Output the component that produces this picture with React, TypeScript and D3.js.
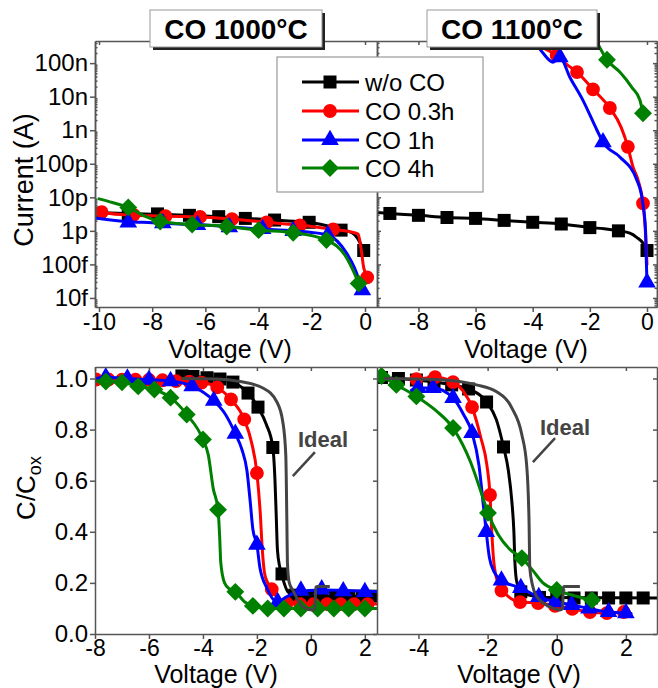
import { useEffect, useRef } from 'react';
import * as d3 from 'd3';

type Pt = [number, number];

const W = 658, H = 688;
const FONT = '"Liberation Sans", Arial, Helvetica, sans-serif';
const AXIS_COLOR = '#555';

// legend / series
const SERIES_NAMES = ['w/o CO', 'CO 0.3h', 'CO 1h', 'CO 4h'];
const SERIES_COLORS = ['#000000', '#ff0000', '#0000ff', '#008000'];
const SERIES_SYMBOLS = ['square', 'circle', 'triangle', 'diamond'];
const PANEL_TITLES = ['CO 1000°C', 'CO 1100°C'];
const IDEAL_LABEL = 'Ideal';
const IDEAL_COLOR = '#444';

// ticks
const I_TICKS = [1e-14, 1e-13, 1e-12, 1e-11, 1e-10, 1e-9, 1e-8, 1e-7];
const I_TICK_LABELS = ['10f', '100f', '1p', '10p', '100p', '1n', '10n', '100n'];
const V_TICKS_TL = [-10, -8, -6, -4, -2, 0];
const V_TICKS_TR = [-8, -6, -4, -2, 0];
const V_TICKS_BL = [-8, -6, -4, -2, 0, 2];
const V_TICKS_BR = [-4, -2, 0, 2];
const C_TICKS = [0, 0.2, 0.4, 0.6, 0.8, 1.0];

// ---- I-V, CO 1000°C (volts, amps)
const TL_BLACK_LINE: Pt[] = [[-10.15, 3.5e-12], [-9, 3.3e-12], [-8, 3.15e-12], [-7, 2.95e-12], [-6, 2.75e-12], [-5, 2.5e-12], [-4, 2.25e-12], [-3, 2.0e-12], [-2, 1.75e-12], [-1.4, 1.4e-12], [-1, 1.1e-12], [-0.68, 1.0e-12], [-0.38, 0.75e-12], [-0.19, 0.45e-12], [-0.05, 0.26e-12]];
const TL_BLACK_MARKS: Pt[] = [[-10, 3.4e-12], [-8.9, 3.3e-12], [-7.8, 3.2e-12], [-6.6, 2.9e-12], [-5.5, 2.65e-12], [-4.5, 2.35e-12], [-3.4, 2.1e-12], [-2.1, 1.8e-12], [-0.9, 1.05e-12], [-0.05, 0.26e-12]];
const TL_RED_LINE: Pt[] = [[-10.15, 4.2e-12], [-9.9, 3.6e-12], [-9, 3.0e-12], [-8, 2.8e-12], [-7, 2.7e-12], [-6, 2.55e-12], [-5, 2.25e-12], [-4, 1.9e-12], [-3, 1.6e-12], [-2, 1.35e-12], [-1.2, 1.1e-12], [-0.6, 0.95e-12], [-0.26, 0.8e-12], [-0.15, 0.3e-12], [-0.05, 0.08e-12], [0.08, 0.041e-12]];
const TL_RED_MARKS: Pt[] = [[-9.9, 3.6e-12], [-8.7, 3.0e-12], [-7.5, 2.75e-12], [-6.2, 2.6e-12], [-5.0, 2.25e-12], [-3.7, 1.8e-12], [-2.45, 1.45e-12], [-1.2, 1.1e-12], [0.08, 0.041e-12]];
const TL_BLUE_LINE: Pt[] = [[-10.15, 2.4e-12], [-9, 1.9e-12], [-8, 1.75e-12], [-7, 1.6e-12], [-6, 1.5e-12], [-5, 1.3e-12], [-4, 1.15e-12], [-3, 1.05e-12], [-2, 0.9e-12], [-1.4, 0.75e-12], [-0.7, 0.22e-12], [-0.4, 0.08e-12], [-0.1, 0.017e-12]];
const TL_BLUE_MARKS: Pt[] = [[-8.9, 1.8e-12], [-7.6, 1.7e-12], [-6.3, 1.5e-12], [-5.1, 1.3e-12], [-3.85, 1.15e-12], [-2.7, 1.0e-12], [-1.4, 0.75e-12], [-0.1, 0.017e-12]];
const TL_GREEN_LINE: Pt[] = [[-10, 9e-12], [-9.5, 7e-12], [-8.9, 5e-12], [-8.3, 2.8e-12], [-7.7, 1.9e-12], [-6.5, 1.55e-12], [-5.2, 1.35e-12], [-4, 1.05e-12], [-2.7, 0.88e-12], [-1.45, 0.53e-12], [-0.7, 0.16e-12], [-0.45, 0.066e-12], [-0.24, 0.027e-12]];
const TL_GREEN_MARKS: Pt[] = [[-8.9, 5e-12], [-7.7, 1.9e-12], [-6.5, 1.55e-12], [-5.2, 1.35e-12], [-4, 1.05e-12], [-2.7, 0.88e-12], [-1.45, 0.53e-12], [-0.24, 0.027e-12]];

// ---- I-V, CO 1100°C
const TR_BLACK_LINE: Pt[] = [[-9.45, 3.5e-12], [-9, 3.3e-12], [-8, 2.9e-12], [-7, 2.5e-12], [-6, 2.35e-12], [-5, 2.05e-12], [-4, 1.8e-12], [-3, 1.6e-12], [-2, 1.25e-12], [-1.5, 1.15e-12], [-1, 1.0e-12], [-0.6, 0.85e-12], [-0.35, 0.63e-12], [-0.14, 0.43e-12], [0, 0.26e-12]];
const TR_BLACK_MARKS: Pt[] = [[-9, 3.3e-12], [-8, 2.9e-12], [-7, 2.5e-12], [-6, 2.35e-12], [-5, 2.05e-12], [-4, 1.8e-12], [-3, 1.6e-12], [-2, 1.25e-12], [-1, 1.0e-12], [0, 0.26e-12]];
const TR_RED_LINE: Pt[] = [[-3.55, 2.6e-7], [-3.16, 1.7e-7], [-2.8, 9e-8], [-2.45, 5.4e-8], [-1.89, 1.66e-8], [-1.3, 4.6e-9], [-0.9, 1.2e-9], [-0.67, 3.2e-10], [-0.49, 8e-11], [-0.3, 3e-11], [-0.14, 6.6e-12], [-0.07, 1.5e-12], [0, 1e-13]];
const TR_RED_MARKS: Pt[] = [[-3.16, 1.7e-7], [-2.45, 5.4e-8], [-1.89, 1.66e-8], [-1.3, 4.6e-9], [-0.67, 3.2e-10], [-0.14, 6.6e-12]];
const TR_BLUE_LINE: Pt[] = [[-3.8, 3e-7], [-3.64, 2e-7], [-3.29, 1.07e-7], [-3.05, 1.5e-7], [-2.7, 3.8e-8], [-2.25, 8e-9], [-1.75, 1e-9], [-1.54, 4.4e-10], [-0.95, 1.6e-10], [-0.35, 3.2e-11], [-0.15, 7e-12], [-0.05, 1e-12], [-0.02, 1e-13], [0, 3e-14]];
const TR_BLUE_MARKS: Pt[] = [[-3.05, 1.5e-7], [-1.54, 4.4e-10], [0, 2.9e-14]];
const TR_GREEN_LINE: Pt[] = [[-1.75, 4.2e-7], [-1.4, 1.26e-7], [-0.95, 5.4e-8], [-0.53, 1.9e-8], [-0.25, 8e-9], [-0.14, 3.2e-9]];
const TR_GREEN_MARKS: Pt[] = [[-1.4, 1.26e-7], [-0.14, 3.2e-9]];

// ---- C-V, CO 1000°C (volts, C/Cox)
const BL_BLACK_LINE: Pt[] = [[-4.8, 1.01], [-4.37, 1.008], [-3.85, 1.003], [-3.37, 0.998], [-2.89, 0.986], [-2.33, 0.943], [-1.96, 0.888], [-1.65, 0.82], [-1.41, 0.73], [-1.33, 0.6], [-1.28, 0.45], [-1.24, 0.33], [-1.15, 0.26], [-1.05, 0.22], [-0.85, 0.165], [-0.6, 0.152], [0, 0.148], [2.45, 0.148]];
const BL_BLACK_MARKS: Pt[] = [[-4.78, 1.01], [-4.37, 1.008], [-3.85, 1.003], [-3.37, 0.998], [-2.89, 0.986], [-2.33, 0.943], [-1.96, 0.888], [-1.41, 0.73], [-1.07, 0.235], [-0.6, 0.152], [-0.1, 0.148], [0.4, 0.148], [0.9, 0.148], [1.4, 0.148], [1.9, 0.148], [2.4, 0.148]];
const BL_RED_LINE: Pt[] = [[-8, 0.996], [-6, 0.995], [-5, 0.99], [-4.05, 0.984], [-3.47, 0.965], [-2.96, 0.918], [-2.47, 0.84], [-2.2, 0.75], [-2.0, 0.63], [-1.88, 0.48], [-1.8, 0.33], [-1.72, 0.24], [-1.6, 0.2], [-1.45, 0.175], [-1.2, 0.135], [-0.9, 0.12], [0, 0.117], [2.45, 0.117]];
const BL_RED_MARKS: Pt[] = [[-7.96, 0.996], [-7.5, 0.996], [-7.0, 0.995], [-6.5, 0.995], [-6.0, 0.995], [-5.5, 0.993], [-5.0, 0.99], [-4.5, 0.988], [-4.05, 0.984], [-3.47, 0.965], [-2.96, 0.918], [-2.47, 0.84], [-2.0, 0.63], [-1.45, 0.175], [-0.9, 0.12], [-0.4, 0.117], [0.1, 0.117], [0.6, 0.117], [1.1, 0.117], [1.6, 0.117], [2.1, 0.117]];
const BL_BLUE_LINE: Pt[] = [[-8, 1.0], [-7.6, 1.005], [-6.8, 1.0], [-6.0, 0.995], [-5.2, 0.99], [-4.4, 0.97], [-3.6, 0.913], [-3.2, 0.865], [-2.8, 0.784], [-2.55, 0.72], [-2.37, 0.64], [-2.25, 0.52], [-2.15, 0.41], [-2.0, 0.35], [-1.89, 0.26], [-1.63, 0.18], [-1.26, 0.125], [-0.9, 0.145], [-0.5, 0.165], [0.4, 0.172], [2.45, 0.165]];
const BL_BLUE_MARKS: Pt[] = [[-7.6, 1.005], [-6.8, 1.0], [-6.0, 0.995], [-5.2, 0.99], [-4.4, 0.97], [-3.6, 0.913], [-2.8, 0.784], [-2.0, 0.35], [-1.23, 0.125], [-0.37, 0.17], [0.4, 0.175], [1.2, 0.168], [2.0, 0.165]];
const BL_GREEN_LINE: Pt[] = [[-8, 0.99], [-7.6, 0.988], [-7.0, 0.985], [-6.4, 0.969], [-5.8, 0.957], [-5.2, 0.925], [-4.6, 0.859], [-4.0, 0.761], [-3.8, 0.7], [-3.62, 0.57], [-3.44, 0.486], [-3.38, 0.38], [-3.34, 0.28], [-3.2, 0.2], [-3.0, 0.175], [-2.8, 0.165], [-2.45, 0.125], [-2.15, 0.11], [-1.6, 0.1], [2.45, 0.1]];
const BL_GREEN_MARKS: Pt[] = [[-7.6, 0.988], [-7.0, 0.985], [-6.4, 0.969], [-5.8, 0.957], [-5.2, 0.925], [-4.6, 0.859], [-4.0, 0.761], [-3.44, 0.486], [-2.8, 0.165], [-2.15, 0.11], [-1.6, 0.1], [-1.0, 0.1], [-0.37, 0.1], [0.25, 0.1], [0.85, 0.1], [1.4, 0.1], [2.0, 0.1]];
const BL_IDEAL: Pt[] = [[-4.8, 1.0], [-3.5, 0.998], [-2.63, 0.988], [-1.78, 0.963], [-1.26, 0.908], [-1.04, 0.83], [-0.93, 0.7], [-0.89, 0.44], [-0.87, 0.28], [-0.8, 0.2], [-0.67, 0.172], [-0.3, 0.106], [0.07, 0.094], [0.15, 0.1], [0.18, 0.184], [0.25, 0.186], [0.7, 0.186]];

// ---- C-V, CO 1100°C
const BR_BLACK_LINE: Pt[] = [[-5.2, 1.004], [-5.07, 1.004], [-4.58, 1.0], [-4.06, 0.994], [-3.55, 0.986], [-3.04, 0.975], [-2.55, 0.959], [-2.03, 0.908], [-1.75, 0.84], [-1.54, 0.732], [-1.4, 0.64], [-1.3, 0.52], [-1.24, 0.4], [-1.21, 0.28], [-1.15, 0.2], [-1.0, 0.165], [-0.8, 0.152], [-0.4, 0.143], [2.9, 0.141]];
const BR_BLACK_MARKS: Pt[] = [[-5.07, 1.004], [-4.58, 1.0], [-4.06, 0.994], [-3.55, 0.986], [-3.04, 0.975], [-2.55, 0.959], [-2.03, 0.908], [-1.54, 0.732], [-1.04, 0.165], [-0.5, 0.143], [0, 0.141], [0.5, 0.141], [1.0, 0.141], [1.5, 0.141], [2.0, 0.141], [2.5, 0.141]];
const BR_RED_LINE: Pt[] = [[-4.2, 0.995], [-4.06, 0.997], [-3.52, 1.005], [-3.0, 0.986], [-2.7, 0.95], [-2.45, 0.888], [-2.2, 0.77], [-2.02, 0.66], [-1.93, 0.544], [-1.88, 0.4], [-1.82, 0.28], [-1.7, 0.2], [-1.5, 0.16], [-1.06, 0.125], [-0.54, 0.121], [0, 0.11], [0.5, 0.097], [0.96, 0.086], [1.45, 0.082], [1.94, 0.086], [2.1, 0.086]];
const BR_RED_MARKS: Pt[] = [[-4.06, 0.997], [-3.52, 1.005], [-3.0, 0.986], [-2.45, 0.888], [-1.93, 0.544], [-1.6, 0.17], [-1.06, 0.125], [-0.54, 0.121], [-0.05, 0.11], [0.45, 0.098], [0.96, 0.086], [1.45, 0.082], [1.94, 0.086]];
const BR_BLUE_LINE: Pt[] = [[-4.2, 0.955], [-4.01, 0.963], [-3.58, 0.963], [-3.0, 0.924], [-2.7, 0.86], [-2.45, 0.787], [-2.25, 0.66], [-2.12, 0.5], [-2.04, 0.4], [-1.95, 0.3], [-1.8, 0.24], [-1.6, 0.21], [-1.04, 0.18], [-0.52, 0.145], [0, 0.125], [0.43, 0.114], [0.93, 0.1], [1.5, 0.086], [2.0, 0.082], [2.15, 0.08]];
const BR_BLUE_MARKS: Pt[] = [[-4.01, 0.963], [-3.58, 0.963], [-3.0, 0.924], [-2.45, 0.787], [-2.04, 0.4], [-1.6, 0.21], [-1.04, 0.18], [-0.52, 0.145], [-0.05, 0.125], [0.43, 0.114], [0.93, 0.1], [1.5, 0.086], [2.0, 0.082]];
const BR_GREEN_LINE: Pt[] = [[-5.2, 1.02], [-5.07, 1.01], [-4.64, 0.975], [-4.06, 0.93], [-3.5, 0.875], [-3.0, 0.806], [-2.5, 0.675], [-2.2, 0.56], [-1.99, 0.474], [-1.7, 0.39], [-1.35, 0.33], [-1.01, 0.297], [-0.7, 0.25], [-0.4, 0.2], [0, 0.172], [0.5, 0.15], [1.02, 0.133], [1.2, 0.13]];
const BR_GREEN_MARKS: Pt[] = [[-5.07, 1.01], [-4.64, 0.975], [-4.06, 0.93], [-3.0, 0.806], [-1.99, 0.474], [-1.01, 0.297], [0, 0.172], [1.02, 0.133]];
const BR_IDEAL: Pt[] = [[-5.0, 1.0], [-3.5, 0.996], [-2.32, 0.975], [-1.74, 0.948], [-1.3, 0.885], [-1.01, 0.78], [-0.87, 0.66], [-0.8, 0.43], [-0.78, 0.26], [-0.7, 0.19], [-0.58, 0.146], [-0.2, 0.107], [0.09, 0.094], [0.17, 0.1], [0.19, 0.185], [0.25, 0.186], [0.67, 0.186]];

// "Ideal" callouts, data coordinates: label anchor, pointer start, pointer end
const BL_IDEAL_NOTE: Pt[] = [[-0.48, 0.732], [0.15, 0.712], [-0.67, 0.618]];
const BR_IDEAL_NOTE: Pt[] = [[-0.485, 0.779], [-0.05, 0.767], [-0.69, 0.673]];

function symbolPath(kind: string) {
  if (kind === 'square') return d3.symbol(d3.symbolSquare, 169)();
  if (kind === 'circle') return d3.symbol(d3.symbolCircle, 150)();
  if (kind === 'triangle') return d3.symbol(d3.symbolTriangle, 135)();
  return d3.symbol(d3.symbolSquare, 160)(); // diamond = rotated square
}

export default function App() {
  const svgRef = useRef<SVGSVGElement>(null);

  useEffect(() => {
    const svg = d3.select(svgRef.current);
    svg.selectAll('*').remove();

    const xTL = d3.scaleLinear().domain([-10.15, 0.45]).range([95, 377]);
    const xTR = d3.scaleLinear().domain([-9.45, 0.35]).range([377, 657]);
    const xBL = d3.scaleLinear().domain([-8, 2.45]).range([95, 377]);
    const xBR = d3.scaleLinear().domain([-5.2, 2.9]).range([377, 657]);
    const yI = d3.scaleLog().domain([10 ** -14.27, 10 ** -6.34]).range([307, 41]);
    const yC = d3.scaleLinear().domain([0, 1.045]).range([634, 367]);

    const iMinor: number[] = [];
    for (let e = -15; e <= -7; e++) for (let m = 2; m <= 9; m++) {
      const v = m * 10 ** e;
      if (v > yI.domain()[0] && v < yI.domain()[1]) iMinor.push(v);
    }

    const fmtV = (d: any) => String(d);
    const fmtI = (d: any) => I_TICK_LABELS[I_TICKS.findIndex(t => Math.abs(t - d) / t < 1e-6)];
    const fmtC = d3.format('.1f');
    const none = () => '';

    const defs = svg.append('defs');

    const addAxis = (axis: any, tx: number, ty: number, fs = 24) => {
      const a = svg.append('g').attr('transform', `translate(${tx},${ty})`).call(axis);
      a.attr('font-family', FONT).attr('font-size', fs);
      a.select('.domain').attr('stroke', AXIS_COLOR).attr('stroke-width', 1.5);
      a.selectAll('.tick line').attr('stroke', AXIS_COLOR).attr('stroke-width', 1.5);
      a.selectAll('.tick text').attr('fill', '#000');
      return a;
    };

    const drawPanel = (id: string, x: any, y: any, series: Pt[][][], ideal?: Pt[]) => {
      const [x0, x1] = x.range();
      const [yb, yt] = y.range();
      svg.append('rect').attr('x', x0).attr('y', yt).attr('width', x1 - x0).attr('height', yb - yt).attr('fill', '#fff');
      defs.append('clipPath').attr('id', `clip-${id}`)
        .append('rect').attr('x', x0).attr('y', yt).attr('width', x1 - x0).attr('height', yb - yt);
      const plot = svg.append('g').attr('clip-path', `url(#clip-${id})`);
      const line = d3.line<Pt>().x(d => x(d[0])).y(d => y(d[1])).curve(d3.curveMonotoneX);

      series.forEach(([pts, marks], i) => {
        plot.append('path').attr('d', line(pts))
          .attr('fill', 'none').attr('stroke', SERIES_COLORS[i]).attr('stroke-width', 3)
          .attr('stroke-linejoin', 'round').attr('stroke-linecap', 'round');
        const sym = symbolPath(SERIES_SYMBOLS[i]);
        const rot = SERIES_SYMBOLS[i] === 'diamond' ? ' rotate(45)' : '';
        plot.selectAll(null).data(marks).join('path')
          .attr('d', sym)
          .attr('transform', d => `translate(${x(d[0])},${y(d[1])})${rot}`)
          .attr('fill', SERIES_COLORS[i]);
      });

      if (ideal) {
        plot.append('path').attr('d', line(ideal))
          .attr('fill', 'none').attr('stroke', IDEAL_COLOR).attr('stroke-width', 3).attr('stroke-linejoin', 'round');
      }
    };

    // ---- top-left: I-V 1000°C
    drawPanel('tl', xTL, yI, [[TL_BLACK_LINE, TL_BLACK_MARKS], [TL_RED_LINE, TL_RED_MARKS], [TL_BLUE_LINE, TL_BLUE_MARKS], [TL_GREEN_LINE, TL_GREEN_MARKS]]);
    addAxis(d3.axisBottom(xTL).tickValues(V_TICKS_TL).tickFormat(fmtV).tickSize(5).tickSizeOuter(0).tickPadding(2), 0, 307, 23);
    addAxis(d3.axisTop(xTL).tickValues(V_TICKS_TL).tickFormat(none).tickSize(-4).tickSizeOuter(0), 0, 41);
    addAxis(d3.axisLeft(yI).tickValues(I_TICKS).tickFormat(fmtI).tickSize(5).tickSizeOuter(0).tickPadding(2), 95, 0);
    addAxis(d3.axisLeft(yI).tickValues(iMinor).tickFormat(none).tickSize(-2.5).tickSizeOuter(0), 95, 0);

    // ---- top-right: I-V 1100°C
    drawPanel('tr', xTR, yI, [[TR_BLACK_LINE, TR_BLACK_MARKS], [TR_RED_LINE, TR_RED_MARKS], [TR_BLUE_LINE, TR_BLUE_MARKS], [TR_GREEN_LINE, TR_GREEN_MARKS]]);
    addAxis(d3.axisBottom(xTR).tickValues(V_TICKS_TR).tickFormat(fmtV).tickSize(5).tickSizeOuter(0).tickPadding(2), 0, 307, 23);
    addAxis(d3.axisTop(xTR).tickValues(V_TICKS_TR).tickFormat(none).tickSize(-4).tickSizeOuter(0), 0, 41);
    addAxis(d3.axisLeft(yI).tickValues(I_TICKS).tickFormat(none).tickSize(-4).tickSizeOuter(0), 377, 0);
    addAxis(d3.axisLeft(yI).tickValues(iMinor).tickFormat(none).tickSize(-2.5).tickSizeOuter(0), 377, 0);
    addAxis(d3.axisRight(yI).tickValues(I_TICKS).tickFormat(none).tickSize(-4).tickSizeOuter(0), 657, 0);
    addAxis(d3.axisRight(yI).tickValues(iMinor).tickFormat(none).tickSize(-2.5).tickSizeOuter(0), 657, 0);

    // ---- bottom-left: C-V 1000°C
    drawPanel('bl', xBL, yC, [[BL_BLACK_LINE, BL_BLACK_MARKS], [BL_RED_LINE, BL_RED_MARKS], [BL_BLUE_LINE, BL_BLUE_MARKS], [BL_GREEN_LINE, BL_GREEN_MARKS]], BL_IDEAL);
    addAxis(d3.axisBottom(xBL).tickValues(V_TICKS_BL).tickFormat(fmtV).tickSize(5).tickSizeOuter(0).tickPadding(1), 0, 634, 23);
    addAxis(d3.axisTop(xBL).tickValues(V_TICKS_BL).tickFormat(none).tickSize(-4).tickSizeOuter(0), 0, 367);
    addAxis(d3.axisLeft(yC).tickValues(C_TICKS).tickFormat(fmtC).tickSize(5).tickSizeOuter(0).tickPadding(2), 95, 0);

    // ---- bottom-right: C-V 1100°C
    drawPanel('br', xBR, yC, [[BR_BLACK_LINE, BR_BLACK_MARKS], [BR_RED_LINE, BR_RED_MARKS], [BR_BLUE_LINE, BR_BLUE_MARKS], [BR_GREEN_LINE, BR_GREEN_MARKS]], BR_IDEAL);
    addAxis(d3.axisBottom(xBR).tickValues(V_TICKS_BR).tickFormat(fmtV).tickSize(5).tickSizeOuter(0).tickPadding(1), 0, 634, 23);
    addAxis(d3.axisTop(xBR).tickValues(V_TICKS_BR).tickFormat(none).tickSize(-4).tickSizeOuter(0), 0, 367);
    addAxis(d3.axisLeft(yC).tickValues(C_TICKS).tickFormat(none).tickSize(4).tickSizeOuter(0), 377, 0);
    addAxis(d3.axisRight(yC).tickValues(C_TICKS).tickFormat(none).tickSize(-4).tickSizeOuter(0), 657, 0);

    // "Ideal" callouts
    [[xBL, BL_IDEAL_NOTE], [xBR, BR_IDEAL_NOTE]].forEach(([x, note]: any) => {
      svg.append('line')
        .attr('x1', x(note[1][0])).attr('y1', yC(note[1][1]))
        .attr('x2', x(note[2][0])).attr('y2', yC(note[2][1]))
        .attr('stroke', IDEAL_COLOR).attr('stroke-width', 2.5);
      svg.append('text').text(IDEAL_LABEL)
        .attr('x', x(note[0][0])).attr('y', yC(note[0][1]))
        .attr('font-family', FONT).attr('font-size', 22).attr('font-weight', 'bold').attr('fill', IDEAL_COLOR);
    });

    // axis titles
    const title = (txt: string, cx: number, by: number, fs: number) =>
      svg.append('text').text(txt).attr('x', cx).attr('y', by).attr('text-anchor', 'middle')
        .attr('font-family', FONT).attr('font-size', fs).attr('fill', '#000');
    title('Voltage (V)', 230, 358, 25);
    title('Voltage (V)', 526, 358, 25);
    title('Voltage (V)', 216, 682.5, 25);
    title('Voltage (V)', 519, 682.5, 25);
    svg.append('text').text('Current (A)')
      .attr('transform', 'translate(33,180) rotate(-90)').attr('text-anchor', 'middle')
      .attr('font-family', FONT).attr('font-size', 27).attr('fill', '#000');
    const cc = svg.append('text').attr('transform', 'translate(35,488) rotate(-90)').attr('text-anchor', 'middle')
      .attr('font-family', FONT).attr('font-size', 26).attr('fill', '#000');
    cc.append('tspan').text('C/C');
    cc.append('tspan').text('ox').attr('font-size', 18).attr('dy', 6);

    // panel titles
    const boxes = [[150, 172], [427, 170]];
    PANEL_TITLES.forEach((t, i) => {
      const [bx, bw] = boxes[i];
      svg.append('rect').attr('x', bx + 3).attr('y', 13).attr('width', bw).attr('height', 37).attr('fill', '#222');
      svg.append('rect').attr('x', bx).attr('y', 10).attr('width', bw).attr('height', 37)
        .attr('fill', '#fff').attr('stroke', '#999').attr('stroke-width', 1);
      svg.append('text').text(t).attr('x', bx + bw / 2).attr('y', 39).attr('text-anchor', 'middle')
        .attr('font-family', FONT).attr('font-size', 28).attr('font-weight', 'bold').attr('fill', '#000');
    });

    // legend
    const lg = svg.append('g');
    lg.append('rect').attr('x', 277).attr('y', 57).attr('width', 206).attr('height', 135)
      .attr('fill', '#fff').attr('stroke', '#999').attr('stroke-width', 1.2);
    const rowY = [82, 111, 140, 168];
    SERIES_NAMES.forEach((name, i) => {
      const ry = rowY[i];
      lg.append('line').attr('x1', 302).attr('x2', 359).attr('y1', ry).attr('y2', ry)
        .attr('stroke', SERIES_COLORS[i]).attr('stroke-width', 3);
      const rot = SERIES_SYMBOLS[i] === 'diamond' ? ' rotate(45)' : '';
      lg.append('path').attr('d', symbolPath(SERIES_SYMBOLS[i]))
        .attr('transform', `translate(330,${ry})${rot}`).attr('fill', SERIES_COLORS[i]);
      lg.append('text').text(name).attr('x', 365).attr('y', ry + 8.5)
        .attr('font-family', FONT).attr('font-size', 24).attr('fill', '#000');
    });
  }, []);

  return (
    <svg ref={svgRef} width={W} height={H}
      style={{ position: 'absolute', left: 0, top: 0, background: '#fff' }} />
  );
}
